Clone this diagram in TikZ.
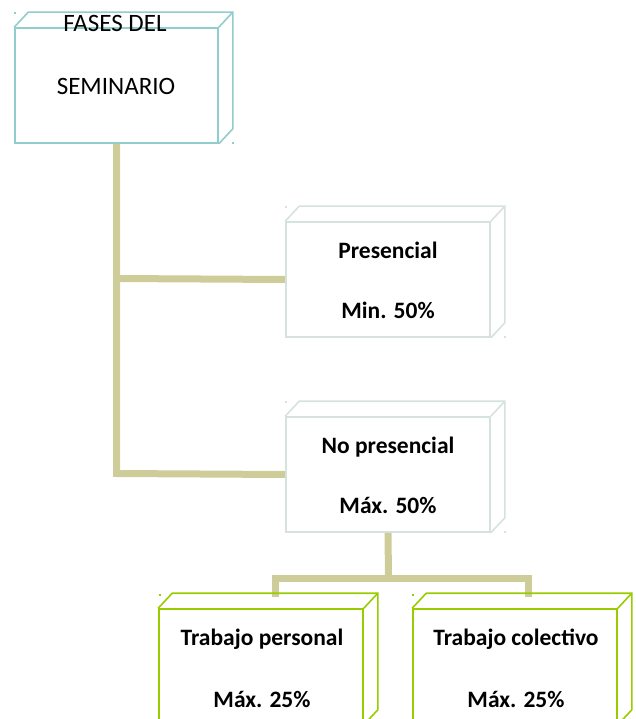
\documentclass[tikz,border=0pt]{standalone}
\usepackage{fontspec}
\setmainfont{Carlito}
\usetikzlibrary{calc}
\definecolor{tealb}{RGB}{145,205,205}
\definecolor{grayb}{RGB}{214,226,224}
\definecolor{greenb}{RGB}{153,204,0}
\definecolor{khaki}{RGB}{206,204,152}
\tikzset{
  front/.style={draw=#1, line width=1.6pt, minimum width=204pt, minimum height=115pt, inner sep=0pt, fill=white},
  depth/.style={draw=#1, line width=1.6pt, line join=miter},
  conn/.style={draw=khaki, line width=7pt},
  regtext/.style={font=\fontsize{25}{25}\selectfont, anchor=base, inner sep=0pt},
  boldtext/.style={font=\fontsize{23.5}{23.5}\selectfont\bfseries, anchor=base, inner sep=0pt},
  cornerdot/.style={fill=#1, minimum size=2pt, inner sep=0pt, draw=none, rectangle}
}
\newcommand{\cubeface}[2]{%
  \draw[depth=#2] (#1.north west) -- ++(14,-15) -- ($(#1.north east)+(14,-15)$) -- ($(#1.south east)+(14,-15)$) -- (#1.south east);
  \draw[depth=#2] (#1.north east) -- ++(14,-15);
}
\begin{document}
\begin{tikzpicture}[x=1pt,y=-1pt]
\useasboundingbox (0,0) rectangle (636,719);
\clip (0,0) rectangle (636,719);
% connectors
\coordinate (j1) at (116.5,278.5);
\coordinate (j2) at (116.5,473.5);
\coordinate (j3) at (388.5,578.5);
\coordinate (j4) at (275,578.5);
\coordinate (j5) at (528.5,578.5);
% boxes
\node[front=tealb, minimum width=203pt] (b1) at (116.5,85.5) {};
\node[front=grayb] (b2) at (388,279.5) {};
\node[front=grayb] (b3) at (388,474.5) {};
\node[front=greenb] (b4) at (261,666.5) {};
\node[front=greenb] (b5) at (515,666.5) {};
\draw[conn] (b1.south) -- (j2) -- (b3.west);
\draw[conn] (j1) -- (b2.west);
\draw[conn] (b3.south) -- (j3);
\draw[conn] ($(j4)+(-3.5,0)$) -- ($(j5)+(3.5,0)$);
\draw[conn] (j4) -- ($(j4)+(0,18)$);
\draw[conn] (j5) -- ($(j5)+(0,18)$);
\cubeface{b1}{tealb}
\cubeface{b2}{grayb}
\cubeface{b3}{grayb}
\cubeface{b4}{greenb}
\cubeface{b5}{greenb}
% corner dots
\node[cornerdot=tealb] (d1) at (15,13) {};
\node[cornerdot=tealb] (d2) at (232.5,143) {};
\node[cornerdot=grayb] (d3) at (286,207) {};
\node[cornerdot=grayb] (d4) at (505,337) {};
\node[cornerdot=grayb] (d5) at (286,402) {};
\node[cornerdot=grayb] (d6) at (505,532) {};
\node[cornerdot=greenb] (d7) at (160,595) {};
\node[cornerdot=greenb] (d8) at (413,595) {};
% texts
\node[regtext] (t1a) at (115,32) {FASES DEL};
\node[regtext] (t1b) at (116,95) {SEMINARIO};
\node[boldtext] (t2a) at (388,258) {Presencial};
\node[boldtext] (t2b) at (388,318) {Min. 50\%};
\node[boldtext] (t3a) at (388,453) {No presencial};
\node[boldtext] (t3b) at (388,513) {Máx. 50\%};
\node[boldtext] (t4a) at (262,645) {Trabajo personal};
\node[boldtext] (t4b) at (262,707) {Máx. 25\%};
\node[boldtext] (t5a) at (516,645) {Trabajo colectivo};
\node[boldtext] (t5b) at (516,707) {Máx. 25\%};
\end{tikzpicture}
\end{document}
